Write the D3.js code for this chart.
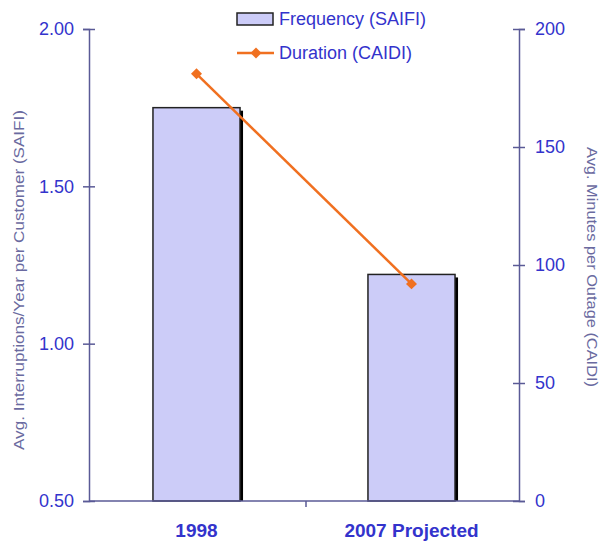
<!DOCTYPE html>
<html><head><meta charset="utf-8">
<script src="https://cdn.jsdelivr.net/npm/d3@7"></script>
<style>body{margin:0;background:#fff}svg{display:block}text{font-family:"Liberation Sans",Arial,sans-serif}</style>
</head><body><svg id="c" width="603" height="545"></svg>
<script>
const categories = ["1998", "2007 Projected"];
const saifi = [1.75, 1.22];
const caidi = [181, 92];
const leftTicks = [0.5, 1.0, 1.5, 2.0];
const rightTicks = [0, 50, 100, 150, 200];

const svg = d3.select("#c");
const L = 89, R = 519, T = 29, B = 501;
const axisCol = "#5a5a96", tickCol = "#3333cc", titleCol = "#6a6aa0";

const x = d3.scaleBand().domain(categories).range([L, R]).paddingInner(0).paddingOuter(0);
const yL = d3.scaleLinear().domain([0.5, 2.0]).range([B, T]);
const yR = d3.scaleLinear().domain([0, 200]).range([B, T]);
const bw = x.bandwidth() * 0.405;

// bars with shadow
const g = svg.append("g");
categories.forEach((c, i) => {
  const cx = x(c) + x.bandwidth() / 2;
  g.append("rect").attr("x", cx - bw/2 + 3).attr("y", yL(saifi[i]) + 3)
    .attr("width", bw).attr("height", B - yL(saifi[i]) - 3).attr("fill", "#000");
  g.append("rect").attr("x", cx - bw/2).attr("y", yL(saifi[i]))
    .attr("width", bw).attr("height", B - yL(saifi[i]))
    .attr("fill", "#ccccf8").attr("stroke", "#222").attr("stroke-width", 1.5);
});

// axes
function styleAxis(sel) {
  sel.select(".domain").attr("stroke", axisCol).attr("stroke-width", 1.5);
  sel.selectAll(".tick line").attr("stroke", axisCol).attr("stroke-width", 1.5);
  sel.selectAll(".tick text").attr("fill", tickCol).style("font-size", "18px");
}
const la = svg.append("g").attr("transform", `translate(${L},0)`)
  .call(d3.axisLeft(yL).tickValues(leftTicks).tickFormat(d3.format(".2f")).tickSizeOuter(0).tickSize(6).tickPadding(9));
styleAxis(la);
la.selectAll(".tick line").attr("x1", -6).attr("x2", 6);
const ra = svg.append("g").attr("transform", `translate(${R},0)`)
  .call(d3.axisRight(yR).tickValues(rightTicks).tickSizeOuter(0).tickSize(6).tickPadding(10));
styleAxis(ra);
ra.selectAll(".tick line").attr("x1", -6).attr("x2", 6);

// bottom axis
svg.append("line").attr("x1", L).attr("x2", R).attr("y1", B).attr("y2", B)
  .attr("stroke", axisCol).attr("stroke-width", 1.5);
svg.append("line").attr("x1", x(categories[1]) + 2).attr("x2", x(categories[1]) + 2)
  .attr("y1", B).attr("y2", B + 6).attr("stroke", axisCol).attr("stroke-width", 1.5);
svg.selectAll(".xl").data(categories).enter().append("text")
  .attr("x", d => x(d) + x.bandwidth()/2).attr("y", 537)
  .attr("text-anchor", "middle").attr("fill", tickCol)
  .style("font-size", "19px").style("font-weight", "bold").text(d => d);

// line
const lineCol = "#f07020";
const pts = categories.map((c, i) => [x(c) + x.bandwidth()/2, yR(caidi[i])]);
svg.append("path").attr("d", d3.line()(pts)).attr("fill", "none")
  .attr("stroke", lineCol).attr("stroke-width", 2.5);
const sym = d3.symbol().type(d3.symbolSquare).size(60);
svg.selectAll(".pt").data(pts).enter().append("path")
  .attr("d", sym).attr("transform", d => `translate(${d[0]},${d[1]}) rotate(45)`).attr("fill", lineCol);

// axis titles
svg.append("text").attr("transform", `translate(24,280) rotate(-90)`)
  .attr("text-anchor", "middle").attr("fill", titleCol).style("font-size", "15px")
  .attr("textLength", 340).attr("lengthAdjust", "spacingAndGlyphs")
  .text("Avg. Interruptions/Year per Customer (SAIFI)");
svg.append("text").attr("transform", `translate(587,267) rotate(90)`)
  .attr("text-anchor", "middle").attr("fill", titleCol).style("font-size", "15px")
  .attr("textLength", 240).attr("lengthAdjust", "spacingAndGlyphs")
  .text("Avg. Minutes per Outage (CAIDI)");

// legend
const lg = svg.append("g");
lg.append("rect").attr("x", 237).attr("y", 13).attr("width", 36).attr("height", 12)
  .attr("fill", "#ccccf8").attr("stroke", "#222").attr("stroke-width", 1.5);
lg.append("text").attr("x", 279).attr("y", 25).attr("fill", tickCol).style("font-size", "18px").text("Frequency (SAIFI)");
lg.append("line").attr("x1", 237).attr("x2", 274).attr("y1", 53).attr("y2", 53)
  .attr("stroke", lineCol).attr("stroke-width", 2.5);
lg.append("path").attr("d", sym).attr("transform", "translate(256,53) rotate(45)").attr("fill", lineCol);
lg.append("text").attr("x", 279).attr("y", 59).attr("fill", tickCol).style("font-size", "18px").text("Duration (CAIDI)");
</script></body></html>
